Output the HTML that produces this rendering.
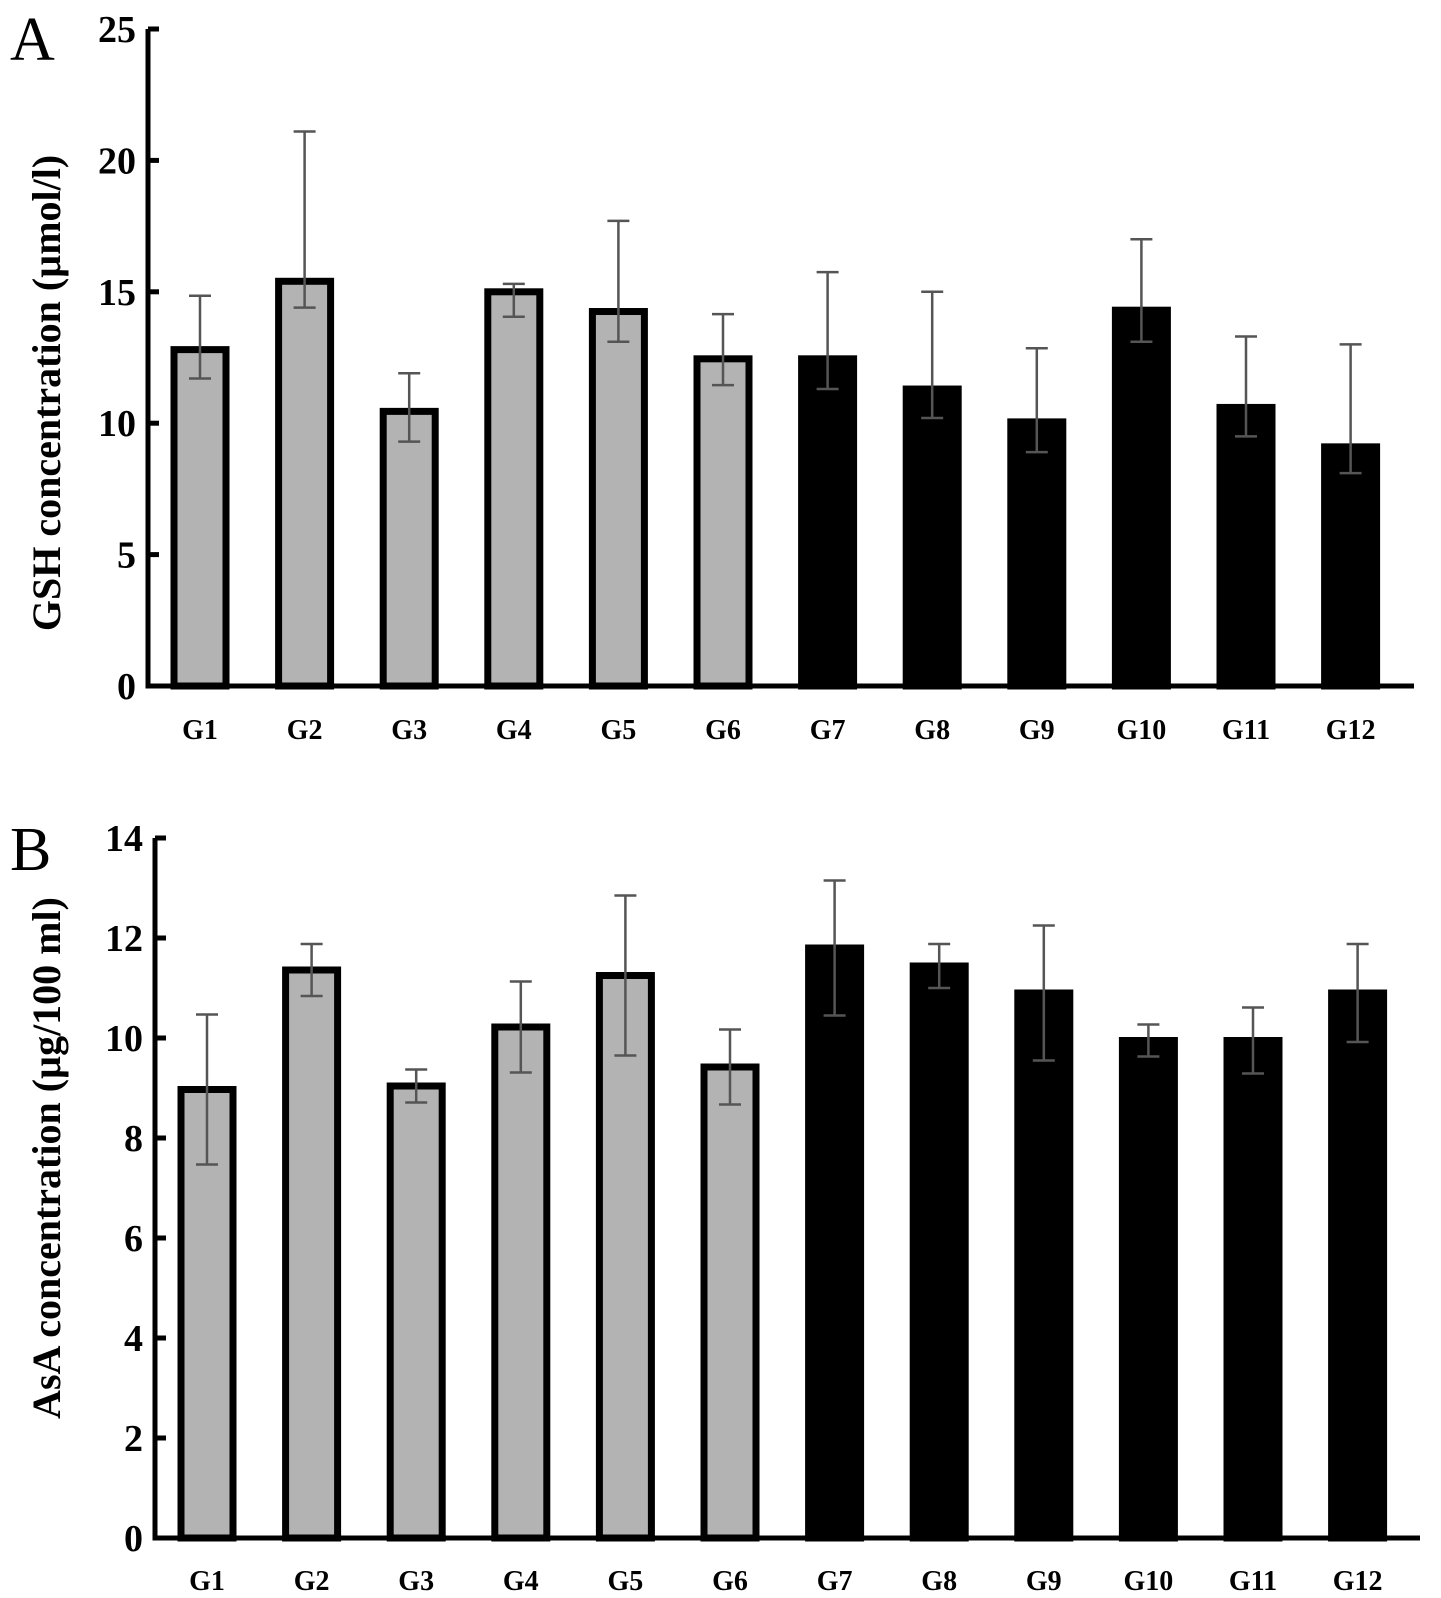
<!DOCTYPE html>
<html><head><meta charset="utf-8"><style>
body{margin:0;background:#fff;}
svg{display:block;font-family:"Liberation Serif",serif;}
</style></head><body>
<svg id="chart" width="1441" height="1598" viewBox="0 0 1441 1598">
<text x="10" y="60" font-size="62">A</text>
<text x="10" y="870" font-size="62">B</text>
<text transform="translate(60,393) rotate(-90)" text-anchor="middle" font-size="40" font-weight="bold">GSH concentration (µmol/l)</text>
<text transform="translate(60,1158) rotate(-90)" text-anchor="middle" font-size="40" font-weight="bold">AsA concentration (µg/100 ml)</text>
<g id="pa"></g><g id="pb"></g>
</svg>
<script>
const categories=["G1","G2","G3","G4","G5","G6","G7","G8","G9","G10","G11","G12"];
const gshMeans=[12.8,15.4,10.45,15.0,14.25,12.45,12.45,11.3,10.05,14.3,10.6,9.1];
const gshErrUp=[2.05,5.7,1.45,0.3,3.45,1.7,3.3,3.7,2.8,2.7,2.7,3.9];
const gshErrDown=[1.1,1.0,1.15,0.95,1.15,1.0,1.15,1.1,1.15,1.2,1.1,1.0];
const gshTicks=[0,5,10,15,20,25];
const asaMeans=[8.97,11.36,9.04,10.22,11.25,9.42,11.8,11.44,10.9,9.95,9.95,10.9];
const asaErrUp=[1.5,0.52,0.33,0.91,1.6,0.75,1.35,0.44,1.35,0.32,0.66,0.98];
const asaErrDown=[1.5,0.52,0.33,0.91,1.6,0.75,1.35,0.44,1.35,0.32,0.66,0.98];
const asaTicks=[0,2,4,6,8,10,12,14];
const NS="http://www.w3.org/2000/svg";
function mk(p,t,a){const e=document.createElementNS(NS,t);for(const k in a)e.setAttribute(k,a[k]);p.appendChild(e);return e;}
function panel(g,means,up,down,ticks,o){
  const ymax=ticks[ticks.length-1];
  const y=v=>o.y0-(v/ymax)*(o.y0-o.yTop);
  const x=i=>o.x1+i*o.step;
  const ax=mk(g,"path",{d:`M${o.ax},${o.yTop} V${o.y0} H${o.axEnd}`,fill:"none",stroke:"#000","stroke-width":5});
  
  
  ticks.forEach(t=>{
    const l=mk(g,"line",{x1:o.ax,x2:o.ax+11,y1:y(t),y2:y(t),stroke:"#000","stroke-width":5});
    
    
    const tx=mk(g,"text",{x:o.ax-12,y:y(t)+13,"text-anchor":"end","font-size":38,"font-weight":"bold"});
    tx.textContent=t;
    
    
  });
  means.forEach((m,i)=>{
    const dark=i>=6, w=o.bw;
    const r=mk(g,"rect",{x:x(i)-w/2,y:y(m),width:w,height:o.y0-y(m),fill:dark?"#000":"#b3b3b3",stroke:"#000","stroke-width":7});
    
    
    const e=mk(g,"path",{d:`M${x(i)},${y(m-down[i])} V${y(m+up[i])} M${x(i)-11},${y(m+up[i])} h22 M${x(i)-11},${y(m-down[i])} h22`,stroke:"#555","stroke-width":2.5,fill:"none"});
    
    
    const lb=mk(g,"text",{x:x(i),y:o.labY,"text-anchor":"middle","font-size":28,"font-weight":"bold"});
    lb.textContent=categories[i];
    
    
  });
}
panel(document.getElementById("pa"),gshMeans,gshErrUp,gshErrDown,gshTicks,{ax:148,yTop:29,y0:686,axEnd:1414,x1:200,step:104.6,bw:52,labY:739});
panel(document.getElementById("pb"),asaMeans,asaErrUp,asaErrDown,asaTicks,{ax:155,yTop:838,y0:1538,axEnd:1420,x1:207,step:104.6,bw:52,labY:1590});
</script>
</body></html>
